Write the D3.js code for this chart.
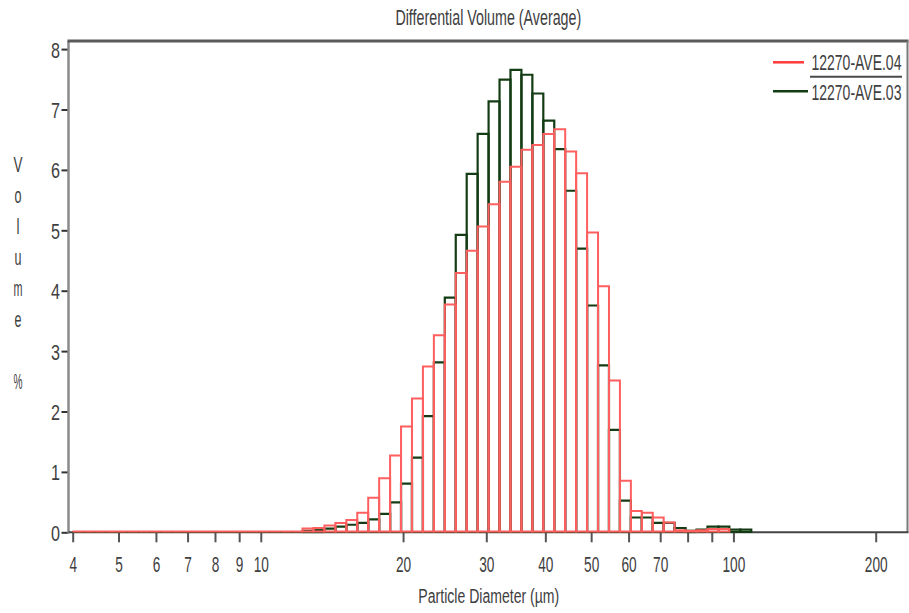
<!DOCTYPE html>
<html>
<head>
<meta charset="utf-8">
<script src="https://cdn.jsdelivr.net/npm/d3@7"></script>
<style>
  html, body { margin: 0; padding: 0; background: #fff; }
  svg { display: block; }
  text { font-family: "Liberation Sans", Arial, sans-serif; fill: #404040; }
</style>
</head>
<body>
<svg id="chart" width="909" height="613"></svg>
<script>
// ---- data ----
const title = "Differential Volume (Average)";
const xLabel = "Particle Diameter (\u00b5m)";
const yLabelLetters = ["V", "o", "l", "u", "m", "e", "", "%"];
const seriesNames = ["12270-AVE.04", "12270-AVE.03"];
// channel structure: first bin edge (µm) and channels per octave
const binStart = 4;
const binsPerOctave = 13;
// series 12270-AVE.04 (red), one value per channel, starting at 4 µm
const redValues = [
  0,0,0,0,0,0,0,0,0,0,0,0,0,0,0,0,0,0,0,0,0,
  0.05, 0.06, 0.10, 0.14, 0.19,
  0.31, 0.56, 0.88, 1.26, 1.74, 2.20, 2.73, 3.25, 3.76, 4.28,
  4.65, 5.05, 5.42, 5.79, 6.04, 6.32, 6.40, 6.58, 6.66, 6.29,
  5.93, 4.95, 4.06, 2.50, 0.84, 0.34, 0.31, 0.23, 0.15, 0.02,
  0.01, 0.02, 0.04, 0.04
];
// series 12270-AVE.03 (green)
const greenValues = [
  0,0,0,0,0,0,0,0,0,0,0,0,0,0,0,0,0,0,0,0,0,
  0.02, 0.03, 0.055, 0.09, 0.12,
  0.15, 0.21, 0.30, 0.49, 0.80, 1.23, 1.92, 2.81, 3.88, 4.92,
  5.93, 6.59, 7.13, 7.49, 7.65, 7.57, 7.26, 6.81, 6.34, 5.65,
  4.69, 3.75, 2.76, 1.69, 0.52, 0.24, 0.24, 0.15, 0.15, 0.066,
  0.02, 0.04, 0.09, 0.09, 0.04, 0.04
];
const xTicks = [4, 5, 6, 7, 8, 9, 10, 20, 30, 40, 50, 60, 70, 80, 90, 100, 200];
const xTickLabels = ["4", "5", "6", "7", "8", "9", "10", "20", "30", "40", "50", "60", "70", "", "", "100", "200"];
const yTicks = [0, 1, 2, 3, 4, 5, 6, 7, 8];

// ---- layout ----
const plot = { left: 68.5, right: 907.5, top: 41, bottom: 532.3 };
const svg = d3.select("#chart");

const x = d3.scaleLog().domain([4, 200]).range([72.7, 875.7]);
const y = d3.scaleLinear().domain([0, 8]).range([532.3, 49.1]);

const edge = k => binStart * Math.pow(2, k / binsPerOctave);
function bins(values) {
  return values.map((v, k) => ({ x0: edge(k), x1: edge(k + 1), v }));
}

// draw a text squeezed horizontally to a given width (narrow font look)
function placeText(parent, str, px, py, anchor, size, width) {
  const t = parent.append("text")
    .attr("text-anchor", anchor)
    .style("font-size", size + "px")
    .text(str);
  const natural = t.node().getComputedTextLength();
  const s = natural > 0 ? width / natural : 1;
  t.attr("transform", `translate(${px},${py}) scale(${s},1)`);
  return t;
}
function squeezeTick(sel, widthFn, xPos) {
  sel.each(function (d, i) {
    const node = this;
    const w = widthFn(d, i);
    if (!w) return;
    const natural = node.getComputedTextLength();
    const s = natural > 0 ? w / natural : 1;
    d3.select(node).attr("x", xPos / s).attr("transform", `scale(${s},1)`);
  });
}

// ---- title ----
placeText(svg, title, 488.3, 25, "middle", 22, 186);

// ---- axes ----
const xAxis = d3.axisBottom(x)
  .tickValues(xTicks)
  .tickFormat((d, i) => xTickLabels[i])
  .tickSize(10).tickSizeOuter(0);
const gx = svg.append("g").attr("transform", `translate(0,${plot.bottom})`).call(xAxis);
gx.select(".domain").remove();
gx.selectAll(".tick line").attr("stroke", "#555").attr("stroke-width", 2);
gx.selectAll(".tick text")
  .attr("y", 39.4).attr("dy", 0)
  .style("font-size", "22px").style("font-family", '"Liberation Sans", Arial, sans-serif')
  .attr("fill", "#404040")
  .call(squeezeTick, (d, i) => xTickLabels[i].length * 7.6, 0);

const yAxis = d3.axisLeft(y).tickValues(yTicks).tickFormat(d3.format("d")).tickSize(7).tickSizeOuter(0);
const gy = svg.append("g").attr("transform", `translate(${plot.left},0)`).call(yAxis);
gy.select(".domain").remove();
gy.selectAll(".tick line").attr("stroke", "#333").attr("stroke-width", 2);
gy.selectAll(".tick text")
  .attr("dy", "0.36em")
  .style("font-size", "22px").style("font-family", '"Liberation Sans", Arial, sans-serif')
  .attr("fill", "#404040")
  .call(squeezeTick, () => 9, -8.5);

// ---- frame ----
svg.append("line").attr("x1", plot.left).attr("x2", plot.left).attr("y1", plot.top).attr("y2", plot.bottom + 1)
  .attr("stroke", "#8a8a8a").attr("stroke-width", 2.5);
svg.append("line").attr("x1", plot.left - 1).attr("x2", plot.right + 1).attr("y1", plot.top).attr("y2", plot.top)
  .attr("stroke", "#5a5a5a").attr("stroke-width", 3);
svg.append("line").attr("x1", plot.right).attr("x2", plot.right).attr("y1", plot.top).attr("y2", plot.bottom)
  .attr("stroke", "#7a7a7a").attr("stroke-width", 2);
svg.append("line").attr("x1", plot.left).attr("x2", plot.right + 1).attr("y1", plot.bottom).attr("y2", plot.bottom)
  .attr("stroke", "#444").attr("stroke-width", 2);

// ---- histograms (outlined bars, drawn as paths so empty channels show on the baseline) ----
const greenColor = "#143c14";
const redColor = "#ff5f5f";
const barPath = (d, lift) => {
  const x0 = x(d.x0), x1 = x(d.x1), y0 = y(0) - lift, yv = y(d.v) - lift;
  return `M${x0},${y0}V${yv}H${x1}V${y0}Z`;
};

svg.append("g").selectAll("path").data(bins(greenValues)).join("path")
  .attr("d", d => barPath(d, 0.3))
  .attr("fill", "none").attr("stroke", greenColor).attr("stroke-width", 2.2);

svg.append("g").selectAll("path").data(bins(redValues)).join("path")
  .attr("d", d => barPath(d, 0.8))
  .attr("fill", "none").attr("stroke", redColor).attr("stroke-width", 2);

// ---- axis labels ----
placeText(svg, xLabel, 488.8, 603.3, "middle", 21, 141);

const yLetterWidths = { V: 9, o: 7, l: 3, u: 7, m: 9, e: 7, "%": 9 };
const gyl = svg.append("g");
yLabelLetters.forEach((c, i) => {
  if (!c) return;
  placeText(gyl, c, 18, 172 + i * 31, "middle", 22, yLetterWidths[c]);
});

// ---- legend ----
const legend = svg.append("g");
legend.append("line").attr("x1", 773).attr("x2", 804).attr("y1", 62.3).attr("y2", 62.3)
  .attr("stroke", "#ff3b3b").attr("stroke-width", 2.5);
placeText(legend, seriesNames[0], 811.5, 70, "start", 22, 90);
legend.append("line").attr("x1", 810).attr("x2", 902).attr("y1", 76.7).attr("y2", 76.7)
  .attr("stroke", "#4a4a4a").attr("stroke-width", 2);
legend.append("line").attr("x1", 773).attr("x2", 808).attr("y1", 91.3).attr("y2", 91.3)
  .attr("stroke", greenColor).attr("stroke-width", 2.5);
placeText(legend, seriesNames[1], 811.5, 100, "start", 22, 90);
</script>
</body>
</html>
